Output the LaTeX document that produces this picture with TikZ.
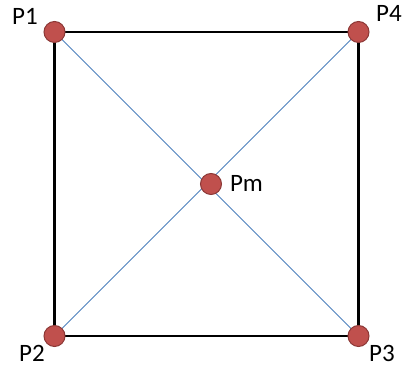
\documentclass[tikz,border=0pt]{standalone}
\usepackage{fontspec}
\setmainfont{Carlito}
\begin{document}
\begin{tikzpicture}[x=1pt,y=1pt,
  dot/.style={circle,fill={rgb,255:red,192;green,80;blue,77},draw={rgb,255:red,140;green,56;blue,54},line width=1pt,minimum size=21pt,inner sep=0pt},
  lbl/.style={font=\fontsize{25}{28}\selectfont,inner sep=0pt,anchor=center},
  side/.style={line width=2.8pt,black},
  diag/.style={line width=1pt,draw={rgb,255:red,79;green,129;blue,189}}]
\useasboundingbox (0,0) rectangle (404,374);
\coordinate (c1) at (54.5,342);
\coordinate (c4) at (358.5,342);
\coordinate (c2) at (54.5,38);
\coordinate (c3) at (358.5,38);
\draw[diag] (c1) -- (c3);
\draw[diag] (c2) -- (c4);
\draw[side] (c1) -- (c4) -- (c3) -- (c2) -- cycle;
\node[dot] (p1) at (c1) {};
\node[dot] (p4) at (c4) {};
\node[dot] (p2) at (c2) {};
\node[dot] (p3) at (c3) {};
\node[dot] (pm) at (211,190) {};
\node[lbl] (t1) at (25,358) {P1};
\node[lbl] (t4) at (389,361) {P4};
\node[lbl] (t2) at (32,21) {P2};
\node[lbl] (t3) at (382,21) {P3};
\node[lbl] (tm) at (246.5,191) {Pm};
\end{tikzpicture}
\end{document}
